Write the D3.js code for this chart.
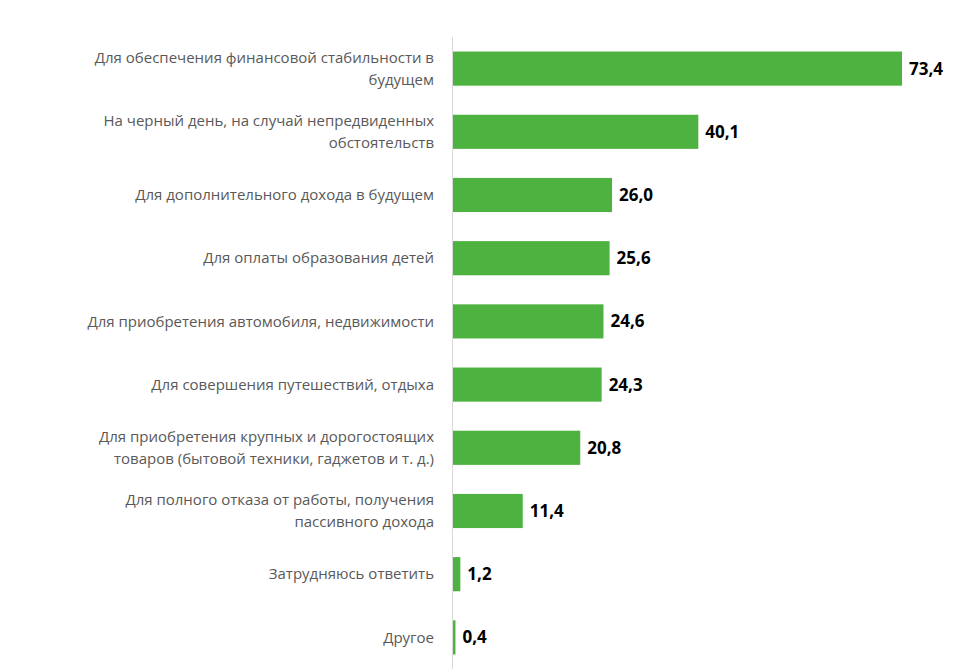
<!DOCTYPE html>
<html><head><meta charset="utf-8">
<script src="https://cdn.jsdelivr.net/npm/d3@7"></script>
<style>body{margin:0;background:#fff}</style></head>
<body><svg id="c" width="954" height="669"></svg>
<script>
const categories = [
 ["Для обеспечения финансовой стабильности в","будущем"],
 ["На черный день, на случай непредвиденных","обстоятельств"],
 ["Для дополнительного дохода в будущем"],
 ["Для оплаты образования детей"],
 ["Для приобретения автомобиля, недвижимости"],
 ["Для совершения путешествий, отдыха"],
 ["Для приобретения крупных и дорогостоящих","товаров (бытовой техники, гаджетов и т. д.)"],
 ["Для полного отказа от работы, получения","пассивного дохода"],
 ["Затрудняюсь ответить"],
 ["Другое"]
];
const values = [73.4,40.1,26.0,25.6,24.6,24.3,20.8,11.4,1.2,0.4];
const labels = ["73,4","40,1","26,0","25,6","24,6","24,3","20,8","11,4","1,2","0,4"];

const svg = d3.select("#c");
const x = d3.scaleLinear().domain([0,73.4]).range([453,902]);
const y = d3.scaleBand().domain(d3.range(values.length)).range([37,669]).paddingInner(0.46).paddingOuter(0.23);

svg.selectAll("rect").data(values).join("rect")
 .attr("x",x(0)).attr("y",(d,i)=>y(i)).attr("width",d=>x(d)-x(0)).attr("height",y.bandwidth())
 .attr("fill","#4DB23F");

svg.append("line").attr("x1",452.5).attr("x2",452.5).attr("y1",37).attr("y2",669)
 .attr("stroke","#d9d9d9").attr("stroke-width",1);

svg.selectAll("text.v").data(values).join("text").attr("class","v")
 .attr("x",d=>x(d)+7).attr("y",(d,i)=>y(i)+y.bandwidth()/2).attr("dy","0.35em")
 .attr("font-family","Open Sans, sans-serif").attr("font-weight","bold").attr("font-size",17)
 .attr("fill","#000").text((d,i)=>labels[i]);

const g = svg.selectAll("text.c").data(categories).join("text").attr("class","c")
 .attr("text-anchor","end").attr("font-family","Open Sans, sans-serif").attr("font-size",15)
 .attr("fill","#595959");
g.each(function(lines,i){
  const cy = y(i)+y.bandwidth()/2;
  const lh = 22;
  const t = d3.select(this);
  lines.forEach((l,k)=>{
    t.append("tspan").attr("x",434).attr("y",cy+(k-(lines.length-1)/2)*lh).attr("dy","0.35em").text(l);
  });
});
</script></body></html>
